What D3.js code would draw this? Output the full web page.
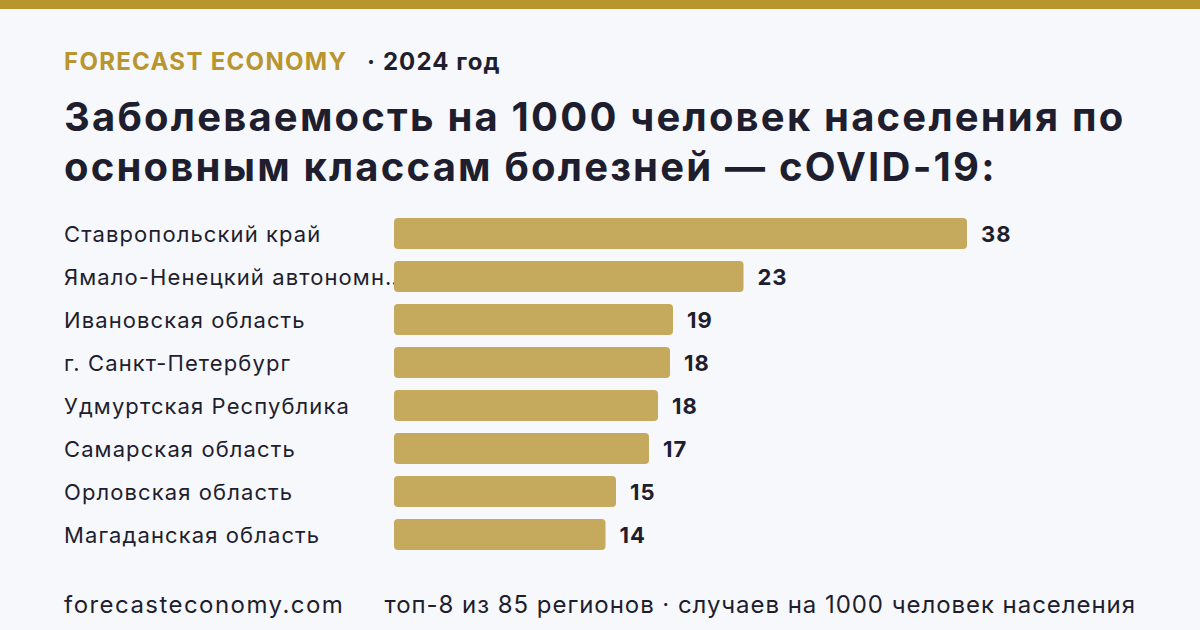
<!DOCTYPE html>
<html>
<head>
<meta charset="utf-8">
<script src="https://cdn.jsdelivr.net/npm/d3@7"></script>
<style>
html,body{margin:0;padding:0;background:#f7f8fc;}
svg{display:block;font-family:Inter,"Noto Sans",sans-serif;}
.label{font-size:22px;letter-spacing:1.1px;fill:#1e1e2e;}
.number{font-size:22px;font-weight:700;letter-spacing:1px;fill:#1e1e2e;}
.bar{fill:#c5a95c;}
.footer{font-size:24px;letter-spacing:1.2px;fill:#1e1e2e;}
</style>
</head>
<body>
<div id="chart"></div>
<script>
var regions=['Ставропольский край','Ямало-Ненецкий автономный округ','Ивановская область','г. Санкт-Петербург','Удмуртская Республика','Самарская область','Орловская область','Магаданская область'];
var values=[38.2,23.3,18.6,18.4,17.6,17.0,14.8,14.1];
var titleLines=['Заболеваемость на 1000 человек населения по','основным классам болезней — cOVID-19:'];

var width=1200,height=630;
var svg=d3.select('#chart').append('svg')
    .attr('width',width)
    .attr('height',height);

svg.append('rect')
    .attr('width',width)
    .attr('height',height)
    .attr('fill','#f7f8fc');
svg.append('rect')
    .attr('width',width)
    .attr('height',9)
    .attr('fill','#b8952e');

// header
svg.append('text')
    .attr('x',64).attr('y',70)
    .attr('fill','#b8952e')
    .style('font-size','24px').style('font-weight',700).style('letter-spacing','1.3px')
    .text('FORECAST ECONOMY');
svg.append('text')
    .attr('x',367).attr('y',70)
    .attr('fill','#1e1e2e')
    .style('font-size','24px').style('font-weight',700).style('letter-spacing','1.1px')
    .text('· 2024 год');

svg.selectAll('.title')
    .data(titleLines)
    .enter()
    .append('text')
    .attr('class','title')
    .attr('x',64)
    .attr('y',function(d,i){return 131+i*50;})
    .attr('fill','#1e1e2e')
    .style('font-size','40px').style('font-weight',700).style('letter-spacing','2.2px')
    .text(function(d){return d;});

var data=regions.map(function(r,i){return {region:r,value:values[i]};});

var x=d3.scaleLinear()
    .domain([0,d3.max(values)])
    .range([394,967]);
var y=d3.scaleBand()
    .domain(regions)
    .range([212,556])
    .paddingInner(0.28)
    .paddingOuter(0.14);

var g=svg.append('g');

g.selectAll('.label')
    .data(data)
    .enter()
    .append('text')
    .attr('class','label')
    .attr('x',64)
    .attr('y',function(d){return y(d.region)+y.bandwidth()/2+8;})
    .text(function(d){
        return d.region.length>24?d.region.slice(0,23)+'…':d.region;
    });

g.selectAll('.bar')
    .data(data)
    .enter()
    .append('rect')
    .attr('class','bar')
    .attr('x',x(0))
    .attr('y',function(d){return y(d.region);})
    .attr('width',function(d){return x(d.value)-x(0);})
    .attr('height',y.bandwidth())
    .attr('rx',4);

g.selectAll('.number')
    .data(data)
    .enter()
    .append('text')
    .attr('class','number')
    .attr('x',function(d){return x(d.value)+14;})
    .attr('y',function(d){return y(d.region)+y.bandwidth()/2+8;})
    .text(function(d){return d3.format('.0f')(d.value);});

// footer
svg.append('text')
    .attr('class','footer')
    .attr('x',64).attr('y',613)
    .style('letter-spacing','1.45px')
    .text('forecasteconomy.com');
svg.append('text')
    .attr('class','footer')
    .attr('x',1136).attr('y',613)
    .attr('text-anchor','end')
    .style('letter-spacing','0.95px')
    .text('топ-8 из 85 регионов · случаев на 1000 человек населения');
</script>
</body>
</html>
